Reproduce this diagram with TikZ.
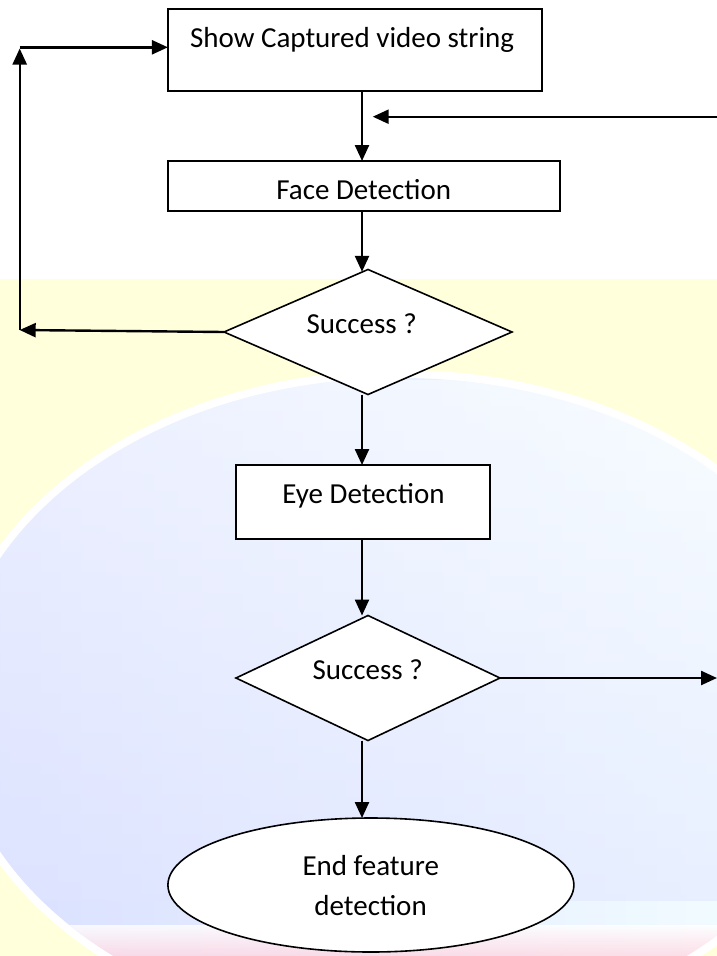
\documentclass[tikz,border=0pt]{standalone}
\usepackage{fontspec}
\setmainfont{Carlito}
\usetikzlibrary{shapes.geometric,arrows.meta}
\definecolor{bgyellow}{HTML}{FFFFDC}
\definecolor{globeblue}{HTML}{CCD4FF}
\definecolor{globecyan}{HTML}{D4F8FF}
\definecolor{globepink}{HTML}{FFD2DE}
\tikzset{
  every node/.style={font=\fontsize{29}{35}\selectfont},
  procbox/.style={draw, line width=2pt, fill=white, inner sep=0pt, outer sep=0pt},
  decision/.style={diamond, draw, line width=1.6pt, fill=white, inner sep=0pt, outer sep=0pt},
  terminal/.style={ellipse, draw, line width=1.6pt, fill=white, inner sep=0pt, outer sep=0pt},
  label text/.style={anchor=base, inner sep=0pt},
  flow/.style={line width=2.4pt, -{Triangle[length=16pt,width=14pt]}},
}
\begin{document}
\begin{tikzpicture}[x=1pt,y=-1pt]
\useasboundingbox (0,0) rectangle (717,956);
% ---- background watermark ----
\fill[white] (0,0) rectangle (717,956);
\fill[bgyellow] (0,279) rectangle (717,956);
\fill[white] (400,705) ellipse [x radius=455, y radius=335];
\begin{scope}
  \clip (400,705) ellipse [x radius=447, y radius=327];
  \shade[left color=globeblue, middle color=globecyan, right color=white!60!globecyan, opacity=0.75]
    (-50,370) rectangle (760,960);
  \shade[top color=white, bottom color=globeblue!60!white, opacity=0.5] (-50,380) rectangle (760,900);
  \shade[top color=globeblue!0, bottom color=globepink, opacity=0.8] (-50,925) rectangle (760,960);
\end{scope}
% ---- nodes ----
\coordinate (axis) at (362,0);
\node[procbox, minimum width=374pt, minimum height=81.7pt] (show) at (354.9,49.9) {};
\node[procbox, minimum width=392.4pt, minimum height=50pt] (face) at (364,186) {};
\node[decision, minimum width=288pt, minimum height=125pt] (succ1) at (368,332) {};
\node[procbox, minimum width=254.7pt, minimum height=74pt] (eye) at (362.9,502) {};
\node[decision, minimum width=264pt, minimum height=125pt] (succ2) at (368,678) {};
\node[terminal, minimum width=406pt, minimum height=134pt] (endn) at (370.9,885) {};
% ---- texts ----
\node[label text] (tshow) at (352.1,47.7) {Show Captured video string};
\node[label text] (tface) at (363.7,199.3) {Face Detection};
\node[label text] (tsucc1) at (361.7,333) {Success ?};
\node[label text] (teye) at (363.5,503.3) {Eye Detection};
\node[label text] (tsucc2) at (367.7,679.3) {Success ?};
\node[label text] (tend1) at (370.8,875) {End feature};
\node[label text] (tend2) at (370.6,915) {detection};
% ---- free coordinates ----
\coordinate (rin) at (717,116.7);
\coordinate (rtip) at (372.7,116.7);
\coordinate (lcorner) at (19.7,330);
\coordinate (ltop) at (19.7,48.5);
\coordinate (ltopl) at (19.7,47.3);
\coordinate (rout) at (717,678);
% ---- connectors ----
\draw[flow] (show.south -| axis) -- (face.north -| axis);
\draw[flow] (rin) -- (rtip);
\draw[flow] (face.south -| axis) -- ([yshift=-2.3pt]succ1.north -| axis);
\draw[flow] (succ1.west) -- (lcorner);
\draw[flow] (lcorner) -- (ltop);
\draw[flow] (ltopl) -- (ltopl -| show.west);
\draw[flow] (succ1.south -| axis) -- (eye.north -| axis);
\draw[flow] (eye.south -| axis) -- (succ2.north -| axis);
\draw[flow] (succ2.east) -- (rout);
\draw[flow] (succ2.south -| axis) -- (endn.north -| axis);
\end{tikzpicture}
\end{document}
